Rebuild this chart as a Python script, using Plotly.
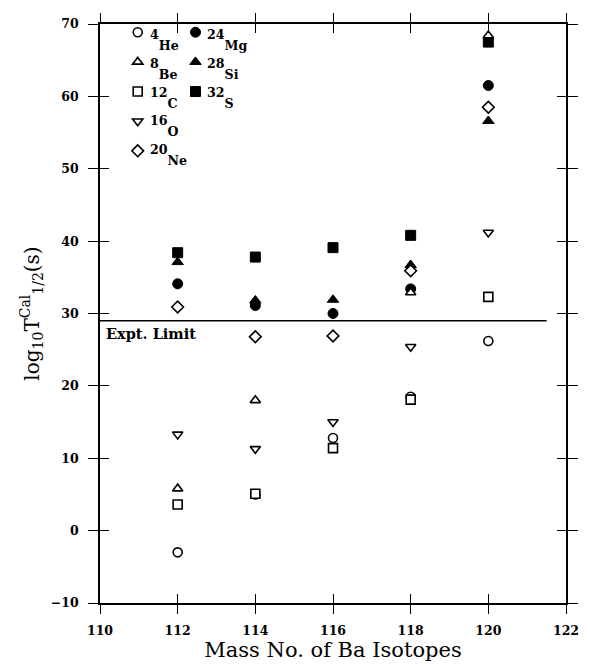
import plotly.graph_objects as go

masses = [112, 114, 116, 118, 120]
he4 = [-3.0, 5.0, 12.8, 18.5, 26.2]
be8 = [5.8, 18.0, None, 32.9, 68.4]
c12 = [3.6, 5.1, 11.4, 18.1, 32.3]
o16 = [13.3, 11.3, 15.0, 25.4, 41.2]
ne20 = [30.9, 26.8, 26.9, 35.9, 58.5]
mg24 = [34.1, 31.1, 30.0, 33.4, 61.5]
si28 = [37.1, 31.8, 31.9, 36.7, 56.6]
s32 = [38.4, 37.8, 39.1, 40.8, 67.5]
expt_limit = 29.0
limit_x = [110, 121.5]

x_ticks = [110, 112, 114, 116, 118, 120, 122]
y_ticks = [-10, 0, 10, 20, 30, 40, 50, 60, 70]

SERIF = "DejaVu Serif"

filled = [
    ("<sup>24</sup><sub>Mg</sub>", mg24, "circle"),
    ("<sup>28</sup><sub>Si</sub>", si28, "triangle-up"),
    ("<sup>32</sup><sub>S</sub>", s32, "square"),
]
opened = [
    ("<sup>4</sup><sub>He</sub>", he4, "circle"),
    ("<sup>8</sup><sub>Be</sub>", be8, "triangle-up"),
    ("<sup>12</sup><sub>C</sub>", c12, "square"),
    ("<sup>16</sup><sub>O</sub>", o16, "triangle-down"),
    ("<sup>20</sup><sub>Ne</sub>", ne20, "diamond"),
]

fig = go.Figure()

fig.add_trace(go.Scatter(x=limit_x, y=[expt_limit, expt_limit], mode="lines",
                         line=dict(color="black", width=1.3), showlegend=False, hoverinfo="skip"))

for name, vals, sym in filled:
    fig.add_trace(go.Scatter(x=masses, y=vals, mode="markers", name=" ", legend="legend2",
                             marker=dict(symbol=sym, size=10, color="black",
                                         line=dict(color="black", width=1))))
for name, vals, sym in opened:
    fig.add_trace(go.Scatter(x=masses, y=vals, mode="markers", name=" ", legend="legend",
                             marker=dict(symbol=sym, size=9, color="white",
                                         line=dict(color="black", width=1.6))))

# invisible trace that makes the overlay axes (inner half of the crossing ticks) exist
fig.add_trace(go.Scatter(x=masses, y=he4, xaxis="x2", yaxis="y2", mode="markers",
                         marker=dict(opacity=0), showlegend=False, hoverinfo="skip"))

axis_common = dict(showline=True, linecolor="black", linewidth=1.6, showgrid=False,
                   zeroline=False, tickwidth=1.3, tickcolor="black")

# legend rows (pixel centres) -> paper coords; plot area 17..613 px high
plot_top, plot_h = 17, 596
plot_left, plot_w = 100, 477
row_px = [33.3, 63.3, 92.7, 122.0, 152.0]
annotations = []
for i, (name, _, _) in enumerate(opened):
    annotations.append(dict(x=(149 - plot_left) / plot_w, y=1 - (row_px[i] - plot_top) / plot_h,
                            xref="paper", yref="paper", text=name, showarrow=False,
                            xanchor="left", yanchor="middle",
                            font=dict(family=SERIF, size=18, weight="bold")))
for i, (name, _, _) in enumerate(filled):
    annotations.append(dict(x=(207 - plot_left) / plot_w, y=1 - (row_px[i] - plot_top) / plot_h,
                            xref="paper", yref="paper", text=name, showarrow=False,
                            xanchor="left", yanchor="middle",
                            font=dict(family=SERIF, size=18, weight="bold")))
annotations.append(dict(x=110, y=expt_limit, xref="x", yref="y", text="Expt. Limit",
                        showarrow=False, xanchor="left", yanchor="top", xshift=4, yshift=-2,
                        font=dict(family=SERIF, size=14.5, weight="bold")))

fig.update_layout(
    width=590, height=667,
    margin=dict(l=plot_left, r=590 - plot_left - plot_w, t=plot_top, b=667 - plot_top - plot_h),
    paper_bgcolor="white", plot_bgcolor="white",
    font=dict(family=SERIF, color="black"),
    xaxis=dict(range=[110, 122], tickvals=x_ticks, ticks="outside", mirror="ticks", ticklen=9,
               ticklabelstandoff=6,
               tickfont=dict(family=SERIF, size=12.5, weight="bold"),
               title=dict(text="Mass No. of Ba Isotopes", font=dict(family=SERIF, size=21), standoff=3),
               **axis_common),
    yaxis=dict(range=[-10, 70], tickvals=y_ticks, ticks="outside", mirror="ticks", ticklen=10,
               ticklabelstandoff=7,
               tickfont=dict(family=SERIF, size=12.5, weight="bold"),
               title=dict(text="log<sub>10</sub>T<sup>Cal</sup><sub>1/2</sub>(s)",
                          font=dict(family=SERIF, size=20), standoff=6),
               **axis_common),
    xaxis2=dict(range=[110, 122], tickvals=x_ticks, ticks="inside", mirror="ticks", ticklen=9,
                overlaying="x", anchor="y2", side="bottom", showticklabels=False,
                **axis_common),
    yaxis2=dict(range=[-10, 70], tickvals=y_ticks, ticks="inside", mirror="ticks", ticklen=9,
                overlaying="y", anchor="x2", side="left", showticklabels=False,
                **axis_common),
    legend=dict(x=0.038, y=1.02, xanchor="left", yanchor="top", bgcolor="rgba(0,0,0,0)",
                font=dict(family=SERIF, size=20.5), tracegroupgap=0, itemwidth=30),
    legend2=dict(x=0.162, y=1.02, xanchor="left", yanchor="top", bgcolor="rgba(0,0,0,0)",
                 font=dict(family=SERIF, size=20.5), tracegroupgap=0, itemwidth=30),
    annotations=annotations,
)

fig.write_html("out.html")
